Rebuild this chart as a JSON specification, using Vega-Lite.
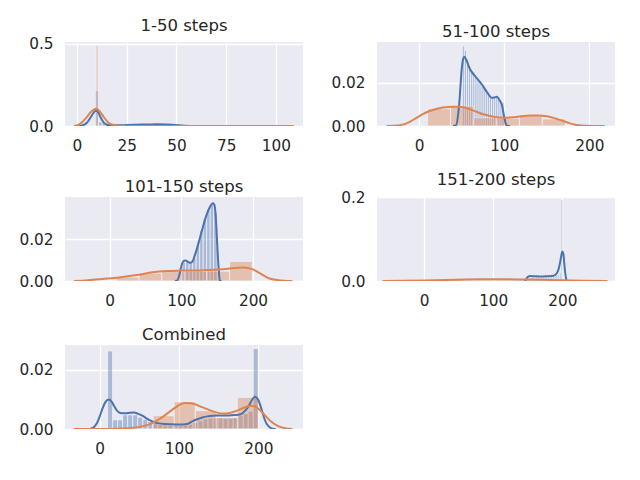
{
  "$schema": "https://vega.github.io/schema/vega-lite/v6.json",
  "padding": {"left": 18, "top": 18, "right": 5, "bottom": 5},
  "background": "white",
  "datasets": {
    "bars": [
      {"panel": "1-50 steps", "series": "first", "x": 9.2, "x2": 10.9, "y": 0.214},
      {"panel": "1-50 steps", "series": "first", "x": 10.9, "x2": 12.6, "y": 0.025},
      {"panel": "1-50 steps", "series": "first", "x": 12.6, "x2": 14.3, "y": 0.02},
      {"panel": "1-50 steps", "series": "first", "x": 14.3, "x2": 16.0, "y": 0.012},
      {"panel": "1-50 steps", "series": "first", "x": 16.0, "x2": 17.7, "y": 0.008},
      {"panel": "1-50 steps", "series": "first", "x": 17.7, "x2": 19.4, "y": 0.006},
      {"panel": "1-50 steps", "series": "first", "x": 19.4, "x2": 21.1, "y": 0.005},
      {"panel": "1-50 steps", "series": "first", "x": 21.1, "x2": 22.8, "y": 0.006},
      {"panel": "1-50 steps", "series": "first", "x": 22.8, "x2": 24.5, "y": 0.005},
      {"panel": "1-50 steps", "series": "first", "x": 24.5, "x2": 26.2, "y": 0.007},
      {"panel": "1-50 steps", "series": "first", "x": 26.2, "x2": 27.9, "y": 0.006},
      {"panel": "1-50 steps", "series": "first", "x": 27.9, "x2": 29.6, "y": 0.008},
      {"panel": "1-50 steps", "series": "first", "x": 29.6, "x2": 31.3, "y": 0.007},
      {"panel": "1-50 steps", "series": "first", "x": 31.3, "x2": 33.0, "y": 0.009},
      {"panel": "1-50 steps", "series": "first", "x": 33.0, "x2": 34.7, "y": 0.008},
      {"panel": "1-50 steps", "series": "first", "x": 34.7, "x2": 36.4, "y": 0.01},
      {"panel": "1-50 steps", "series": "first", "x": 36.4, "x2": 38.1, "y": 0.009},
      {"panel": "1-50 steps", "series": "first", "x": 38.1, "x2": 39.8, "y": 0.011},
      {"panel": "1-50 steps", "series": "first", "x": 39.8, "x2": 41.5, "y": 0.01},
      {"panel": "1-50 steps", "series": "first", "x": 41.5, "x2": 43.2, "y": 0.009},
      {"panel": "1-50 steps", "series": "first", "x": 43.2, "x2": 44.9, "y": 0.01},
      {"panel": "1-50 steps", "series": "first", "x": 44.9, "x2": 46.6, "y": 0.008},
      {"panel": "1-50 steps", "series": "first", "x": 46.6, "x2": 48.3, "y": 0.009},
      {"panel": "1-50 steps", "series": "first", "x": 48.3, "x2": 50.0, "y": 0.007},
      {"panel": "1-50 steps", "series": "second", "x": 9.6, "x2": 10.6, "y": 0.49},

      {"panel": "51-100 steps", "series": "first", "x": 50.8, "x2": 53.25, "y": 0.037},
      {"panel": "51-100 steps", "series": "first", "x": 53.25, "x2": 55.7, "y": 0.035},
      {"panel": "51-100 steps", "series": "first", "x": 55.7, "x2": 58.15, "y": 0.031},
      {"panel": "51-100 steps", "series": "first", "x": 58.15, "x2": 60.6, "y": 0.028},
      {"panel": "51-100 steps", "series": "first", "x": 60.6, "x2": 63.05, "y": 0.026},
      {"panel": "51-100 steps", "series": "first", "x": 63.05, "x2": 65.5, "y": 0.025},
      {"panel": "51-100 steps", "series": "first", "x": 65.5, "x2": 67.95, "y": 0.023},
      {"panel": "51-100 steps", "series": "first", "x": 67.95, "x2": 70.4, "y": 0.022},
      {"panel": "51-100 steps", "series": "first", "x": 70.4, "x2": 72.85, "y": 0.021},
      {"panel": "51-100 steps", "series": "first", "x": 72.85, "x2": 75.3, "y": 0.019},
      {"panel": "51-100 steps", "series": "first", "x": 75.3, "x2": 77.75, "y": 0.018},
      {"panel": "51-100 steps", "series": "first", "x": 77.75, "x2": 80.2, "y": 0.016},
      {"panel": "51-100 steps", "series": "first", "x": 80.2, "x2": 82.65, "y": 0.015},
      {"panel": "51-100 steps", "series": "first", "x": 82.65, "x2": 85.1, "y": 0.013},
      {"panel": "51-100 steps", "series": "first", "x": 85.1, "x2": 87.55, "y": 0.013},
      {"panel": "51-100 steps", "series": "first", "x": 87.55, "x2": 90.0, "y": 0.013},
      {"panel": "51-100 steps", "series": "first", "x": 90.0, "x2": 92.45, "y": 0.014},
      {"panel": "51-100 steps", "series": "first", "x": 92.45, "x2": 94.9, "y": 0.013},
      {"panel": "51-100 steps", "series": "first", "x": 94.9, "x2": 97.35, "y": 0.012},
      {"panel": "51-100 steps", "series": "first", "x": 97.35, "x2": 99.8, "y": 0.011},
      {"panel": "51-100 steps", "series": "second", "x": 10.2, "x2": 37.1, "y": 0.008},
      {"panel": "51-100 steps", "series": "second", "x": 37.1, "x2": 64.0, "y": 0.0092},
      {"panel": "51-100 steps", "series": "second", "x": 64.0, "x2": 90.9, "y": 0.0038},
      {"panel": "51-100 steps", "series": "second", "x": 90.9, "x2": 117.8, "y": 0.0036},
      {"panel": "51-100 steps", "series": "second", "x": 117.8, "x2": 144.7, "y": 0.0053},
      {"panel": "51-100 steps", "series": "second", "x": 144.7, "x2": 171.6, "y": 0.0033},

      {"panel": "101-150 steps", "series": "first", "x": 101.0, "x2": 105.9, "y": 0.009},
      {"panel": "101-150 steps", "series": "first", "x": 105.9, "x2": 110.8, "y": 0.0095},
      {"panel": "101-150 steps", "series": "first", "x": 110.8, "x2": 115.7, "y": 0.009},
      {"panel": "101-150 steps", "series": "first", "x": 115.7, "x2": 120.6, "y": 0.011},
      {"panel": "101-150 steps", "series": "first", "x": 120.6, "x2": 125.5, "y": 0.017},
      {"panel": "101-150 steps", "series": "first", "x": 125.5, "x2": 130.4, "y": 0.024},
      {"panel": "101-150 steps", "series": "first", "x": 130.4, "x2": 135.3, "y": 0.03},
      {"panel": "101-150 steps", "series": "first", "x": 135.3, "x2": 140.2, "y": 0.034},
      {"panel": "101-150 steps", "series": "first", "x": 140.2, "x2": 145.1, "y": 0.037},
      {"panel": "101-150 steps", "series": "first", "x": 145.1, "x2": 150.0, "y": 0.033},
      {"panel": "101-150 steps", "series": "second", "x": 9.3, "x2": 40.9, "y": 0.0019},
      {"panel": "101-150 steps", "series": "second", "x": 40.9, "x2": 72.6, "y": 0.0038},
      {"panel": "101-150 steps", "series": "second", "x": 72.6, "x2": 104.1, "y": 0.0045},
      {"panel": "101-150 steps", "series": "second", "x": 104.1, "x2": 135.7, "y": 0.0047},
      {"panel": "101-150 steps", "series": "second", "x": 135.7, "x2": 167.3, "y": 0.0047},
      {"panel": "101-150 steps", "series": "second", "x": 167.3, "x2": 199.0, "y": 0.0094},

      {"panel": "151-200 steps", "series": "first", "x": 151.5, "x2": 153.95, "y": 0.008},
      {"panel": "151-200 steps", "series": "first", "x": 153.95, "x2": 156.4, "y": 0.009},
      {"panel": "151-200 steps", "series": "first", "x": 156.4, "x2": 158.85, "y": 0.01},
      {"panel": "151-200 steps", "series": "first", "x": 158.85, "x2": 161.3, "y": 0.009},
      {"panel": "151-200 steps", "series": "first", "x": 161.3, "x2": 163.75, "y": 0.01},
      {"panel": "151-200 steps", "series": "first", "x": 163.75, "x2": 166.2, "y": 0.01},
      {"panel": "151-200 steps", "series": "first", "x": 166.2, "x2": 168.65, "y": 0.009},
      {"panel": "151-200 steps", "series": "first", "x": 168.65, "x2": 171.1, "y": 0.01},
      {"panel": "151-200 steps", "series": "first", "x": 171.1, "x2": 173.55, "y": 0.01},
      {"panel": "151-200 steps", "series": "first", "x": 173.55, "x2": 176.0, "y": 0.011},
      {"panel": "151-200 steps", "series": "first", "x": 176.0, "x2": 178.45, "y": 0.01},
      {"panel": "151-200 steps", "series": "first", "x": 178.45, "x2": 180.9, "y": 0.011},
      {"panel": "151-200 steps", "series": "first", "x": 180.9, "x2": 183.35, "y": 0.01},
      {"panel": "151-200 steps", "series": "first", "x": 183.35, "x2": 185.8, "y": 0.011},
      {"panel": "151-200 steps", "series": "first", "x": 185.8, "x2": 188.25, "y": 0.012},
      {"panel": "151-200 steps", "series": "first", "x": 188.25, "x2": 190.7, "y": 0.012},
      {"panel": "151-200 steps", "series": "first", "x": 190.7, "x2": 193.15, "y": 0.014},
      {"panel": "151-200 steps", "series": "first", "x": 193.15, "x2": 195.6, "y": 0.016},
      {"panel": "151-200 steps", "series": "first", "x": 195.6, "x2": 198.05, "y": 0.02},
      {"panel": "151-200 steps", "series": "first", "x": 198.05, "x2": 200.5, "y": 0.194},
      {"panel": "151-200 steps", "series": "second", "x": 6, "x2": 38, "y": 0.0015},
      {"panel": "151-200 steps", "series": "second", "x": 38, "x2": 70, "y": 0.003},
      {"panel": "151-200 steps", "series": "second", "x": 70, "x2": 102, "y": 0.0045},
      {"panel": "151-200 steps", "series": "second", "x": 102, "x2": 134, "y": 0.0045},
      {"panel": "151-200 steps", "series": "second", "x": 134, "x2": 166, "y": 0.0035},
      {"panel": "151-200 steps", "series": "second", "x": 166, "x2": 198, "y": 0.003},

      {"panel": "Combined", "series": "first", "x": 10.0, "x2": 16.33, "y": 0.0264},
      {"panel": "Combined", "series": "first", "x": 16.33, "x2": 22.67, "y": 0.0031},
      {"panel": "Combined", "series": "first", "x": 22.67, "x2": 29.0, "y": 0.0031},
      {"panel": "Combined", "series": "first", "x": 29.0, "x2": 35.33, "y": 0.0048},
      {"panel": "Combined", "series": "first", "x": 35.33, "x2": 41.67, "y": 0.0048},
      {"panel": "Combined", "series": "first", "x": 41.67, "x2": 48.0, "y": 0.0048},
      {"panel": "Combined", "series": "first", "x": 48.0, "x2": 54.33, "y": 0.004},
      {"panel": "Combined", "series": "first", "x": 54.33, "x2": 60.67, "y": 0.0032},
      {"panel": "Combined", "series": "first", "x": 60.67, "x2": 67.0, "y": 0.0025},
      {"panel": "Combined", "series": "first", "x": 67.0, "x2": 73.33, "y": 0.0018},
      {"panel": "Combined", "series": "first", "x": 73.33, "x2": 79.67, "y": 0.0015},
      {"panel": "Combined", "series": "first", "x": 79.67, "x2": 86.0, "y": 0.0014},
      {"panel": "Combined", "series": "first", "x": 86.0, "x2": 92.33, "y": 0.0013},
      {"panel": "Combined", "series": "first", "x": 92.33, "x2": 98.67, "y": 0.0013},
      {"panel": "Combined", "series": "first", "x": 98.67, "x2": 105.0, "y": 0.0012},
      {"panel": "Combined", "series": "first", "x": 105.0, "x2": 111.33, "y": 0.0013},
      {"panel": "Combined", "series": "first", "x": 111.33, "x2": 117.67, "y": 0.0016},
      {"panel": "Combined", "series": "first", "x": 117.67, "x2": 124.0, "y": 0.0022},
      {"panel": "Combined", "series": "first", "x": 124.0, "x2": 130.33, "y": 0.0028},
      {"panel": "Combined", "series": "first", "x": 130.33, "x2": 136.67, "y": 0.0034},
      {"panel": "Combined", "series": "first", "x": 136.67, "x2": 143.0, "y": 0.0037},
      {"panel": "Combined", "series": "first", "x": 143.0, "x2": 149.33, "y": 0.0037},
      {"panel": "Combined", "series": "first", "x": 149.33, "x2": 155.67, "y": 0.0037},
      {"panel": "Combined", "series": "first", "x": 155.67, "x2": 162.0, "y": 0.0036},
      {"panel": "Combined", "series": "first", "x": 162.0, "x2": 168.33, "y": 0.0036},
      {"panel": "Combined", "series": "first", "x": 168.33, "x2": 174.67, "y": 0.0038},
      {"panel": "Combined", "series": "first", "x": 174.67, "x2": 181.0, "y": 0.0045},
      {"panel": "Combined", "series": "first", "x": 181.0, "x2": 187.33, "y": 0.0052},
      {"panel": "Combined", "series": "first", "x": 187.33, "x2": 193.67, "y": 0.006},
      {"panel": "Combined", "series": "first", "x": 193.67, "x2": 200.0, "y": 0.0272},
      {"panel": "Combined", "series": "second", "x": 67.5, "x2": 94.0, "y": 0.0045},
      {"panel": "Combined", "series": "second", "x": 94.0, "x2": 120.5, "y": 0.0092},
      {"panel": "Combined", "series": "second", "x": 120.5, "x2": 147.0, "y": 0.0062},
      {"panel": "Combined", "series": "second", "x": 147.0, "x2": 173.5, "y": 0.0039},
      {"panel": "Combined", "series": "second", "x": 173.5, "x2": 200.0, "y": 0.0107}
    ],
    "kde": [
      {"panel": "1-50 steps", "series": "first", "x": 1, "y": 0},
      {"panel": "1-50 steps", "series": "first", "x": 3, "y": 0.005},
      {"panel": "1-50 steps", "series": "first", "x": 5, "y": 0.02},
      {"panel": "1-50 steps", "series": "first", "x": 7, "y": 0.055},
      {"panel": "1-50 steps", "series": "first", "x": 8.5, "y": 0.083},
      {"panel": "1-50 steps", "series": "first", "x": 9.6, "y": 0.093},
      {"panel": "1-50 steps", "series": "first", "x": 10.6, "y": 0.085},
      {"panel": "1-50 steps", "series": "first", "x": 12, "y": 0.05},
      {"panel": "1-50 steps", "series": "first", "x": 13.5, "y": 0.02},
      {"panel": "1-50 steps", "series": "first", "x": 15, "y": 0.008},
      {"panel": "1-50 steps", "series": "first", "x": 17, "y": 0.004},
      {"panel": "1-50 steps", "series": "first", "x": 20, "y": 0.004},
      {"panel": "1-50 steps", "series": "first", "x": 25, "y": 0.006},
      {"panel": "1-50 steps", "series": "first", "x": 30, "y": 0.008},
      {"panel": "1-50 steps", "series": "first", "x": 35, "y": 0.0095},
      {"panel": "1-50 steps", "series": "first", "x": 40, "y": 0.01},
      {"panel": "1-50 steps", "series": "first", "x": 45, "y": 0.0095},
      {"panel": "1-50 steps", "series": "first", "x": 48, "y": 0.008},
      {"panel": "1-50 steps", "series": "first", "x": 51, "y": 0.004},
      {"panel": "1-50 steps", "series": "first", "x": 54, "y": 0.001},
      {"panel": "1-50 steps", "series": "first", "x": 57, "y": 0},
      {"panel": "1-50 steps", "series": "second", "x": -1.5, "y": 0},
      {"panel": "1-50 steps", "series": "second", "x": 1, "y": 0.008},
      {"panel": "1-50 steps", "series": "second", "x": 3, "y": 0.028},
      {"panel": "1-50 steps", "series": "second", "x": 5, "y": 0.055},
      {"panel": "1-50 steps", "series": "second", "x": 7, "y": 0.085},
      {"panel": "1-50 steps", "series": "second", "x": 8.5, "y": 0.1},
      {"panel": "1-50 steps", "series": "second", "x": 9.5, "y": 0.104},
      {"panel": "1-50 steps", "series": "second", "x": 10.5, "y": 0.1},
      {"panel": "1-50 steps", "series": "second", "x": 12, "y": 0.08},
      {"panel": "1-50 steps", "series": "second", "x": 13.7, "y": 0.051},
      {"panel": "1-50 steps", "series": "second", "x": 16, "y": 0.018},
      {"panel": "1-50 steps", "series": "second", "x": 18.5, "y": 0.005},
      {"panel": "1-50 steps", "series": "second", "x": 21, "y": 0.001},
      {"panel": "1-50 steps", "series": "second", "x": 25, "y": 0},
      {"panel": "1-50 steps", "series": "second", "x": 109, "y": 0},

      {"panel": "51-100 steps", "series": "first", "x": 40, "y": 0},
      {"panel": "51-100 steps", "series": "first", "x": 43.4, "y": 0.0003},
      {"panel": "51-100 steps", "series": "first", "x": 45.5, "y": 0.004},
      {"panel": "51-100 steps", "series": "first", "x": 47.3, "y": 0.0108},
      {"panel": "51-100 steps", "series": "first", "x": 50.1, "y": 0.0262},
      {"panel": "51-100 steps", "series": "first", "x": 51.8, "y": 0.031},
      {"panel": "51-100 steps", "series": "first", "x": 53.2, "y": 0.032},
      {"panel": "51-100 steps", "series": "first", "x": 56, "y": 0.03},
      {"panel": "51-100 steps", "series": "first", "x": 59.9, "y": 0.0262},
      {"panel": "51-100 steps", "series": "first", "x": 65.7, "y": 0.0231},
      {"panel": "51-100 steps", "series": "first", "x": 73.6, "y": 0.0193},
      {"panel": "51-100 steps", "series": "first", "x": 80.2, "y": 0.0154},
      {"panel": "51-100 steps", "series": "first", "x": 85.3, "y": 0.0131},
      {"panel": "51-100 steps", "series": "first", "x": 88.5, "y": 0.0132},
      {"panel": "51-100 steps", "series": "first", "x": 91.2, "y": 0.0135},
      {"panel": "51-100 steps", "series": "first", "x": 95.1, "y": 0.0115},
      {"panel": "51-100 steps", "series": "first", "x": 97.5, "y": 0.0095},
      {"panel": "51-100 steps", "series": "first", "x": 99, "y": 0.0062},
      {"panel": "51-100 steps", "series": "first", "x": 102.1, "y": 0.0008},
      {"panel": "51-100 steps", "series": "first", "x": 104, "y": 0},
      {"panel": "51-100 steps", "series": "first", "x": 107, "y": 0},
      {"panel": "51-100 steps", "series": "second", "x": -38, "y": 0},
      {"panel": "51-100 steps", "series": "second", "x": -30, "y": 0.0001},
      {"panel": "51-100 steps", "series": "second", "x": -22, "y": 0.0004},
      {"panel": "51-100 steps", "series": "second", "x": -12, "y": 0.0017},
      {"panel": "51-100 steps", "series": "second", "x": -3, "y": 0.0038},
      {"panel": "51-100 steps", "series": "second", "x": 7, "y": 0.006},
      {"panel": "51-100 steps", "series": "second", "x": 17, "y": 0.0075},
      {"panel": "51-100 steps", "series": "second", "x": 28, "y": 0.0085},
      {"panel": "51-100 steps", "series": "second", "x": 40, "y": 0.0089},
      {"panel": "51-100 steps", "series": "second", "x": 48, "y": 0.0089},
      {"panel": "51-100 steps", "series": "second", "x": 56, "y": 0.0082},
      {"panel": "51-100 steps", "series": "second", "x": 66, "y": 0.0068},
      {"panel": "51-100 steps", "series": "second", "x": 75.5, "y": 0.0054},
      {"panel": "51-100 steps", "series": "second", "x": 87, "y": 0.0043},
      {"panel": "51-100 steps", "series": "second", "x": 99, "y": 0.0038},
      {"panel": "51-100 steps", "series": "second", "x": 110, "y": 0.004},
      {"panel": "51-100 steps", "series": "second", "x": 120, "y": 0.0045},
      {"panel": "51-100 steps", "series": "second", "x": 130, "y": 0.0049},
      {"panel": "51-100 steps", "series": "second", "x": 140, "y": 0.0049},
      {"panel": "51-100 steps", "series": "second", "x": 150, "y": 0.0045},
      {"panel": "51-100 steps", "series": "second", "x": 160, "y": 0.0035},
      {"panel": "51-100 steps", "series": "second", "x": 169.4, "y": 0.0023},
      {"panel": "51-100 steps", "series": "second", "x": 177, "y": 0.0012},
      {"panel": "51-100 steps", "series": "second", "x": 185, "y": 0.0005},
      {"panel": "51-100 steps", "series": "second", "x": 195, "y": 0.0001},
      {"panel": "51-100 steps", "series": "second", "x": 218, "y": 0},

      {"panel": "101-150 steps", "series": "first", "x": 91, "y": 0},
      {"panel": "101-150 steps", "series": "first", "x": 94.4, "y": 0.0003},
      {"panel": "101-150 steps", "series": "first", "x": 96.5, "y": 0.002},
      {"panel": "101-150 steps", "series": "first", "x": 98.1, "y": 0.0043},
      {"panel": "101-150 steps", "series": "first", "x": 101.4, "y": 0.0087},
      {"panel": "101-150 steps", "series": "first", "x": 104, "y": 0.0097},
      {"panel": "101-150 steps", "series": "first", "x": 106, "y": 0.0098},
      {"panel": "101-150 steps", "series": "first", "x": 109, "y": 0.0093},
      {"panel": "101-150 steps", "series": "first", "x": 111.6, "y": 0.0087},
      {"panel": "101-150 steps", "series": "first", "x": 114, "y": 0.0089},
      {"panel": "101-150 steps", "series": "first", "x": 116.3, "y": 0.0098},
      {"panel": "101-150 steps", "series": "first", "x": 119, "y": 0.0125},
      {"panel": "101-150 steps", "series": "first", "x": 122.3, "y": 0.0161},
      {"panel": "101-150 steps", "series": "first", "x": 125.8, "y": 0.0205},
      {"panel": "101-150 steps", "series": "first", "x": 129.2, "y": 0.0247},
      {"panel": "101-150 steps", "series": "first", "x": 132.7, "y": 0.029},
      {"panel": "101-150 steps", "series": "first", "x": 136.2, "y": 0.0326},
      {"panel": "101-150 steps", "series": "first", "x": 139.5, "y": 0.0352},
      {"panel": "101-150 steps", "series": "first", "x": 142.3, "y": 0.0368},
      {"panel": "101-150 steps", "series": "first", "x": 144.3, "y": 0.0372},
      {"panel": "101-150 steps", "series": "first", "x": 146, "y": 0.0365},
      {"panel": "101-150 steps", "series": "first", "x": 147.5, "y": 0.033},
      {"panel": "101-150 steps", "series": "first", "x": 148.8, "y": 0.0263},
      {"panel": "101-150 steps", "series": "first", "x": 150, "y": 0.018},
      {"panel": "101-150 steps", "series": "first", "x": 151.2, "y": 0.0105},
      {"panel": "101-150 steps", "series": "first", "x": 152.5, "y": 0.004},
      {"panel": "101-150 steps", "series": "first", "x": 153.5, "y": 0.0003},
      {"panel": "101-150 steps", "series": "first", "x": 156, "y": 0},
      {"panel": "101-150 steps", "series": "second", "x": -50, "y": 0},
      {"panel": "101-150 steps", "series": "second", "x": -30, "y": 0.0004},
      {"panel": "101-150 steps", "series": "second", "x": -10, "y": 0.001},
      {"panel": "101-150 steps", "series": "second", "x": 13, "y": 0.0017},
      {"panel": "101-150 steps", "series": "second", "x": 40, "y": 0.003},
      {"panel": "101-150 steps", "series": "second", "x": 60, "y": 0.0042},
      {"panel": "101-150 steps", "series": "second", "x": 80, "y": 0.0048},
      {"panel": "101-150 steps", "series": "second", "x": 101, "y": 0.005},
      {"panel": "101-150 steps", "series": "second", "x": 130, "y": 0.0052},
      {"panel": "101-150 steps", "series": "second", "x": 152, "y": 0.0055},
      {"panel": "101-150 steps", "series": "second", "x": 175, "y": 0.0062},
      {"panel": "101-150 steps", "series": "second", "x": 187, "y": 0.0065},
      {"panel": "101-150 steps", "series": "second", "x": 199, "y": 0.0057},
      {"panel": "101-150 steps", "series": "second", "x": 210, "y": 0.0036},
      {"panel": "101-150 steps", "series": "second", "x": 222, "y": 0.0013},
      {"panel": "101-150 steps", "series": "second", "x": 235, "y": 0.0004},
      {"panel": "101-150 steps", "series": "second", "x": 255, "y": 0},

      {"panel": "151-200 steps", "series": "first", "x": 145, "y": 0},
      {"panel": "151-200 steps", "series": "first", "x": 147, "y": 0.002},
      {"panel": "151-200 steps", "series": "first", "x": 148.5, "y": 0.007},
      {"panel": "151-200 steps", "series": "first", "x": 150.5, "y": 0.0105},
      {"panel": "151-200 steps", "series": "first", "x": 153.3, "y": 0.0119},
      {"panel": "151-200 steps", "series": "first", "x": 160, "y": 0.0112},
      {"panel": "151-200 steps", "series": "first", "x": 168, "y": 0.011},
      {"panel": "151-200 steps", "series": "first", "x": 177, "y": 0.0115},
      {"panel": "151-200 steps", "series": "first", "x": 187, "y": 0.0125},
      {"panel": "151-200 steps", "series": "first", "x": 190.5, "y": 0.016},
      {"panel": "151-200 steps", "series": "first", "x": 192.8, "y": 0.0214},
      {"panel": "151-200 steps", "series": "first", "x": 195, "y": 0.032},
      {"panel": "151-200 steps", "series": "first", "x": 196.7, "y": 0.045},
      {"panel": "151-200 steps", "series": "first", "x": 198.5, "y": 0.062},
      {"panel": "151-200 steps", "series": "first", "x": 199.8, "y": 0.0706},
      {"panel": "151-200 steps", "series": "first", "x": 201.5, "y": 0.0635},
      {"panel": "151-200 steps", "series": "first", "x": 202.8, "y": 0.04},
      {"panel": "151-200 steps", "series": "first", "x": 203.9, "y": 0.021},
      {"panel": "151-200 steps", "series": "first", "x": 205.2, "y": 0.007},
      {"panel": "151-200 steps", "series": "first", "x": 206.4, "y": 0},
      {"panel": "151-200 steps", "series": "first", "x": 210, "y": 0},
      {"panel": "151-200 steps", "series": "second", "x": -60, "y": 0},
      {"panel": "151-200 steps", "series": "second", "x": -30, "y": 0.0005},
      {"panel": "151-200 steps", "series": "second", "x": 0, "y": 0.0013},
      {"panel": "151-200 steps", "series": "second", "x": 30, "y": 0.0024},
      {"panel": "151-200 steps", "series": "second", "x": 60, "y": 0.0034},
      {"panel": "151-200 steps", "series": "second", "x": 90, "y": 0.0041},
      {"panel": "151-200 steps", "series": "second", "x": 110, "y": 0.0043},
      {"panel": "151-200 steps", "series": "second", "x": 140, "y": 0.0038},
      {"panel": "151-200 steps", "series": "second", "x": 170, "y": 0.0029},
      {"panel": "151-200 steps", "series": "second", "x": 200, "y": 0.0018},
      {"panel": "151-200 steps", "series": "second", "x": 230, "y": 0.0007},
      {"panel": "151-200 steps", "series": "second", "x": 265, "y": 0},

      {"panel": "Combined", "series": "first", "x": -12, "y": 0},
      {"panel": "Combined", "series": "first", "x": -6, "y": 0.001},
      {"panel": "Combined", "series": "first", "x": -3, "y": 0.0022},
      {"panel": "Combined", "series": "first", "x": 0, "y": 0.0042},
      {"panel": "Combined", "series": "first", "x": 3.3, "y": 0.0067},
      {"panel": "Combined", "series": "first", "x": 7, "y": 0.009},
      {"panel": "Combined", "series": "first", "x": 11.7, "y": 0.01},
      {"panel": "Combined", "series": "first", "x": 15, "y": 0.0093},
      {"panel": "Combined", "series": "first", "x": 18, "y": 0.0079},
      {"panel": "Combined", "series": "first", "x": 21, "y": 0.0065},
      {"panel": "Combined", "series": "first", "x": 24.3, "y": 0.0056},
      {"panel": "Combined", "series": "first", "x": 28, "y": 0.0053},
      {"panel": "Combined", "series": "first", "x": 32.8, "y": 0.0053},
      {"panel": "Combined", "series": "first", "x": 38, "y": 0.0055},
      {"panel": "Combined", "series": "first", "x": 43.3, "y": 0.0056},
      {"panel": "Combined", "series": "first", "x": 48, "y": 0.0052},
      {"panel": "Combined", "series": "first", "x": 53.7, "y": 0.0045},
      {"panel": "Combined", "series": "first", "x": 59, "y": 0.0036},
      {"panel": "Combined", "series": "first", "x": 64.3, "y": 0.0028},
      {"panel": "Combined", "series": "first", "x": 70, "y": 0.0022},
      {"panel": "Combined", "series": "first", "x": 74.8, "y": 0.0019},
      {"panel": "Combined", "series": "first", "x": 83, "y": 0.0017},
      {"panel": "Combined", "series": "first", "x": 91.5, "y": 0.0016},
      {"panel": "Combined", "series": "first", "x": 100, "y": 0.0015},
      {"panel": "Combined", "series": "first", "x": 108.4, "y": 0.0016},
      {"panel": "Combined", "series": "first", "x": 113, "y": 0.002},
      {"panel": "Combined", "series": "first", "x": 116.8, "y": 0.0026},
      {"panel": "Combined", "series": "first", "x": 123, "y": 0.0033},
      {"panel": "Combined", "series": "first", "x": 129.4, "y": 0.0039},
      {"panel": "Combined", "series": "first", "x": 137, "y": 0.0043},
      {"panel": "Combined", "series": "first", "x": 146.3, "y": 0.0046},
      {"panel": "Combined", "series": "first", "x": 155, "y": 0.0046},
      {"panel": "Combined", "series": "first", "x": 163.1, "y": 0.0046},
      {"panel": "Combined", "series": "first", "x": 170, "y": 0.0047},
      {"panel": "Combined", "series": "first", "x": 177.8, "y": 0.005},
      {"panel": "Combined", "series": "first", "x": 182, "y": 0.0058},
      {"panel": "Combined", "series": "first", "x": 187.4, "y": 0.0075},
      {"panel": "Combined", "series": "first", "x": 192, "y": 0.0098},
      {"panel": "Combined", "series": "first", "x": 195.8, "y": 0.0109},
      {"panel": "Combined", "series": "first", "x": 198.5, "y": 0.0104},
      {"panel": "Combined", "series": "first", "x": 200.9, "y": 0.0093},
      {"panel": "Combined", "series": "first", "x": 204, "y": 0.0068},
      {"panel": "Combined", "series": "first", "x": 207.2, "y": 0.0039},
      {"panel": "Combined", "series": "first", "x": 210.5, "y": 0.0018},
      {"panel": "Combined", "series": "first", "x": 213.5, "y": 0.0008},
      {"panel": "Combined", "series": "first", "x": 219.8, "y": 0},
      {"panel": "Combined", "series": "first", "x": 222, "y": 0},
      {"panel": "Combined", "series": "second", "x": -33, "y": 0},
      {"panel": "Combined", "series": "second", "x": 0, "y": 0},
      {"panel": "Combined", "series": "second", "x": 30, "y": 0.0002},
      {"panel": "Combined", "series": "second", "x": 50, "y": 0.0007},
      {"panel": "Combined", "series": "second", "x": 60, "y": 0.0013},
      {"panel": "Combined", "series": "second", "x": 70, "y": 0.0025},
      {"panel": "Combined", "series": "second", "x": 80, "y": 0.0042},
      {"panel": "Combined", "series": "second", "x": 90, "y": 0.0062},
      {"panel": "Combined", "series": "second", "x": 100, "y": 0.0081},
      {"panel": "Combined", "series": "second", "x": 107, "y": 0.0088},
      {"panel": "Combined", "series": "second", "x": 115, "y": 0.0087},
      {"panel": "Combined", "series": "second", "x": 130, "y": 0.0073},
      {"panel": "Combined", "series": "second", "x": 145, "y": 0.0058},
      {"panel": "Combined", "series": "second", "x": 155, "y": 0.0052},
      {"panel": "Combined", "series": "second", "x": 165, "y": 0.0055},
      {"panel": "Combined", "series": "second", "x": 175, "y": 0.0064},
      {"panel": "Combined", "series": "second", "x": 185, "y": 0.0075},
      {"panel": "Combined", "series": "second", "x": 191, "y": 0.0079},
      {"panel": "Combined", "series": "second", "x": 198, "y": 0.0073},
      {"panel": "Combined", "series": "second", "x": 205, "y": 0.0056},
      {"panel": "Combined", "series": "second", "x": 215, "y": 0.0028},
      {"panel": "Combined", "series": "second", "x": 225, "y": 0.001},
      {"panel": "Combined", "series": "second", "x": 235, "y": 0.0002},
      {"panel": "Combined", "series": "second", "x": 243, "y": 0}
    ]
  },
  "columns": 2,
  "spacing": {"row": 17, "column": 27},
  "concat": [
    {
      "title": "1-50 steps",
      "width": 238,
      "height": 84,
      "encoding": {
        "x": {"field": "x", "type": "quantitative", "scale": {"domain": [-6, 113.6], "nice": false, "zero": false}, "axis": {"values": [0, 25, 50, 75, 100]}},
        "y": {"field": "y", "type": "quantitative", "scale": {"domain": [0, 0.51], "nice": false}, "axis": {"values": [0, 0.5], "format": ".1f"}},
        "color": {"field": "series", "type": "nominal", "scale": {"domain": ["first", "second"], "range": ["#4c72b0", "#dd8452"]}, "legend": null}
      },
      "layer": [
        {"data": {"name": "bars"}, "transform": [{"filter": "datum.panel == '1-50 steps'"}], "mark": {"type": "rect", "opacity": 0.4, "stroke": "white", "strokeWidth": 0.8}, "encoding": {"x2": {"field": "x2"}, "y2": {"datum": 0}}},
        {"data": {"name": "kde"}, "transform": [{"filter": "datum.panel == '1-50 steps'"}], "mark": {"type": "line", "strokeWidth": 2, "interpolate": "monotone", "clip": true}}
      ]
    },
    {
      "title": "51-100 steps",
      "width": 238,
      "height": 84,
      "encoding": {
        "x": {"field": "x", "type": "quantitative", "scale": {"domain": [-49.3, 230], "nice": false, "zero": false}, "axis": {"values": [0, 100, 200]}},
        "y": {"field": "y", "type": "quantitative", "scale": {"domain": [0, 0.0388], "nice": false}, "axis": {"values": [0, 0.02], "format": ".2f"}},
        "color": {"field": "series", "type": "nominal", "scale": {"domain": ["first", "second"], "range": ["#4c72b0", "#dd8452"]}, "legend": null}
      },
      "layer": [
        {"data": {"name": "bars"}, "transform": [{"filter": "datum.panel == '51-100 steps'"}], "mark": {"type": "rect", "opacity": 0.4, "stroke": "white", "strokeWidth": 0.8}, "encoding": {"x2": {"field": "x2"}, "y2": {"datum": 0}}},
        {"data": {"name": "kde"}, "transform": [{"filter": "datum.panel == '51-100 steps'"}], "mark": {"type": "line", "strokeWidth": 2, "interpolate": "monotone", "clip": true}}
      ]
    },
    {
      "title": "101-150 steps",
      "width": 238,
      "height": 84,
      "encoding": {
        "x": {"field": "x", "type": "quantitative", "scale": {"domain": [-62.4, 269.8], "nice": false, "zero": false}, "axis": {"values": [0, 100, 200]}},
        "y": {"field": "y", "type": "quantitative", "scale": {"domain": [0, 0.0402], "nice": false}, "axis": {"values": [0, 0.02], "format": ".2f"}},
        "color": {"field": "series", "type": "nominal", "scale": {"domain": ["first", "second"], "range": ["#4c72b0", "#dd8452"]}, "legend": null}
      },
      "layer": [
        {"data": {"name": "bars"}, "transform": [{"filter": "datum.panel == '101-150 steps'"}], "mark": {"type": "rect", "opacity": 0.4, "stroke": "white", "strokeWidth": 0.8}, "encoding": {"x2": {"field": "x2"}, "y2": {"datum": 0}}},
        {"data": {"name": "kde"}, "transform": [{"filter": "datum.panel == '101-150 steps'"}], "mark": {"type": "line", "strokeWidth": 2, "interpolate": "monotone", "clip": true}}
      ]
    },
    {
      "title": "151-200 steps",
      "width": 238,
      "height": 84,
      "encoding": {
        "x": {"field": "x", "type": "quantitative", "scale": {"domain": [-68, 276], "nice": false, "zero": false}, "axis": {"values": [0, 100, 200]}},
        "y": {"field": "y", "type": "quantitative", "scale": {"domain": [0, 0.201], "nice": false}, "axis": {"values": [0, 0.2], "format": ".1f"}},
        "color": {"field": "series", "type": "nominal", "scale": {"domain": ["first", "second"], "range": ["#4c72b0", "#dd8452"]}, "legend": null}
      },
      "layer": [
        {"data": {"name": "bars"}, "transform": [{"filter": "datum.panel == '151-200 steps'"}], "mark": {"type": "rect", "opacity": 0.4, "stroke": "white", "strokeWidth": 0.8}, "encoding": {"x2": {"field": "x2"}, "y2": {"datum": 0}}},
        {"data": {"name": "kde"}, "transform": [{"filter": "datum.panel == '151-200 steps'"}], "mark": {"type": "line", "strokeWidth": 2, "interpolate": "monotone", "clip": true}}
      ]
    },
    {
      "title": "Combined",
      "width": 238,
      "height": 84,
      "encoding": {
        "x": {"field": "x", "type": "quantitative", "scale": {"domain": [-43.7, 256.4], "nice": false, "zero": false}, "axis": {"values": [0, 100, 200]}},
        "y": {"field": "y", "type": "quantitative", "scale": {"domain": [0, 0.0284], "nice": false}, "axis": {"values": [0, 0.02], "format": ".2f"}},
        "color": {"field": "series", "type": "nominal", "scale": {"domain": ["first", "second"], "range": ["#4c72b0", "#dd8452"]}, "legend": null}
      },
      "layer": [
        {"data": {"name": "bars"}, "transform": [{"filter": "datum.panel == 'Combined'"}], "mark": {"type": "rect", "opacity": 0.4, "stroke": "white", "strokeWidth": 0.8}, "encoding": {"x2": {"field": "x2"}, "y2": {"datum": 0}}},
        {"data": {"name": "kde"}, "transform": [{"filter": "datum.panel == 'Combined'"}], "mark": {"type": "line", "strokeWidth": 2, "interpolate": "monotone", "clip": true}}
      ]
    }
  ],
  "config": {
    "view": {"fill": "#eaeaf2", "stroke": null},
    "axis": {
      "title": null,
      "grid": true,
      "gridColor": "white",
      "gridWidth": 1.3,
      "domain": false,
      "ticks": false,
      "labelFont": "DejaVu Sans",
      "labelFontSize": 15.3,
      "labelColor": "#262626",
      "labelPadding": 12,
      "labelFlush": false,
      "labelOverlap": false,
      "labelBound": false
    },
    "title": {
      "font": "DejaVu Sans",
      "fontSize": 16.5,
      "fontWeight": "normal",
      "color": "#262626",
      "baseline": "alphabetic",
      "offset": 2
    }
  }
}
